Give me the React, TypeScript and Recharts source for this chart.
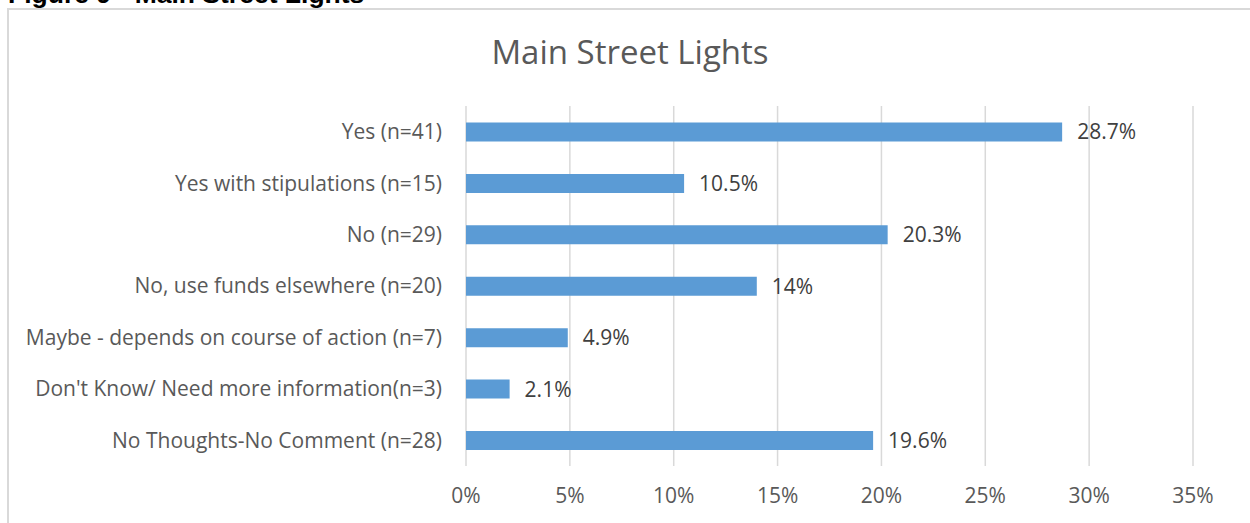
import React from "react"
import { BarChart, Bar, XAxis, YAxis, CartesianGrid, LabelList } from "recharts"

const categories = [
  "Yes (n=41)",
  "Yes with stipulations (n=15)",
  "No (n=29)",
  "No, use funds elsewhere (n=20)",
  "Maybe - depends on course of action (n=7)",
  "Don't Know/ Need more information(n=3)",
  "No Thoughts-No Comment (n=28)",
]
const percents = [28.7, 10.5, 20.3, 14, 4.9, 2.1, 19.6]
const valueLabels = ["28.7%", "10.5%", "20.3%", "14%", "4.9%", "2.1%", "19.6%"]
const xTicks = [0, 5, 10, 15, 20, 25, 30, 35]

const data = categories.map((name, i) => ({ name, value: percents[i], label: valueLabels[i] }))

const font = "'Open Sans', sans-serif"

export default function App() {
  return (
    <div style={{ position: "absolute", left: 0, top: 0, width: 1250, height: 523, overflow: "hidden", background: "#fff" }}>
      <div
        style={{
          position: "absolute",
          left: 8,
          top: -19,
          fontFamily: "'Liberation Sans', Arial, sans-serif",
          fontWeight: "bold",
          fontSize: 26.5,
          lineHeight: 1,
          color: "#000",
          whiteSpace: "nowrap",
        }}
      >
        Figure 9 - Main Street Lights
      </div>
      <div
        style={{
          position: "absolute",
          left: 7,
          top: 8,
          width: 1300,
          height: 600,
          border: "2px solid #d9d9d9",
          boxSizing: "border-box",
        }}
      />
      <div
        style={{
          position: "absolute",
          left: 0,
          top: 30,
          width: 1260,
          textAlign: "center",
          fontFamily: font,
          fontSize: 33,
          lineHeight: 1.362,
          color: "#595959",
        }}
      >
        Main Street Lights
      </div>
      <div style={{ position: "absolute", left: 0, top: 0 }}>
        <BarChart
          width={1250}
          height={523}
          data={data}
          layout="vertical"
          margin={{ top: 106, right: 57, bottom: 0, left: 0 }}
          barCategoryGap="32%"
        >
          <CartesianGrid horizontal={false} stroke="#d9d9d9" strokeWidth={1.5} />
          <XAxis
            type="number"
            domain={[0, 35]}
            ticks={xTicks}
            tickFormatter={(v) => `${v}%`}
            axisLine={false}
            tickLine={false}
            tickSize={0}
            tickMargin={22}
            tick={{ fill: "#595959", fontSize: 21, fontFamily: font }}
            height={57}
          />
          <YAxis
            type="category"
            dataKey="name"
            width={466}
            axisLine={false}
            tickLine={false}
            tickSize={0}
            tickMargin={24}
            interval={0}
            tick={{ fill: "#595959", fontSize: 21, fontFamily: font }}
          />
          <Bar dataKey="value" fill="#5b9bd5" isAnimationActive={false}>
            <LabelList
              dataKey="label"
              position="right"
              offset={15}
              fill="#404040"
              fontSize={21}
              fontFamily={font}
            />
          </Bar>
        </BarChart>
      </div>
    </div>
  )
}
